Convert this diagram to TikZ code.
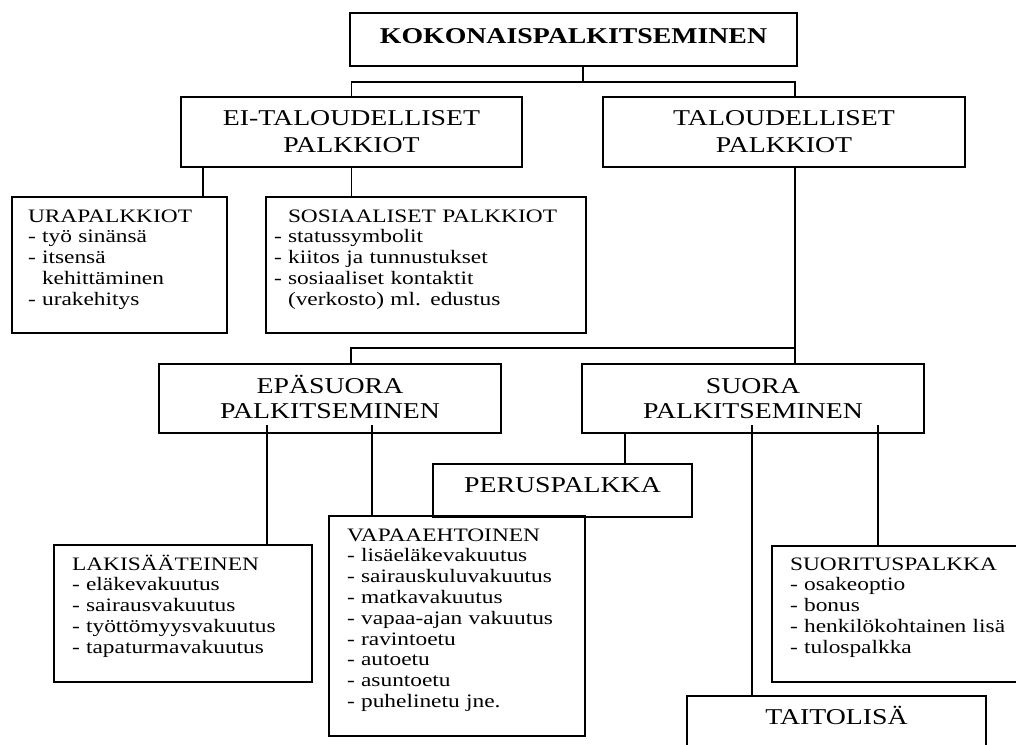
\documentclass[tikz,border=0pt]{standalone}
\usepackage{fontspec}
\setmainfont{Liberation Serif}[FakeStretch=1.23]
\usetikzlibrary{calc}
\newcommand{\headsize}{\fontsize{22.6pt}{25pt}\selectfont}
\newcommand{\toprowsize}{\fontsize{22.6pt}{27pt}\selectfont}
\newcommand{\listsize}{\fontsize{19pt}{20.8pt}\selectfont}
\tikzset{
    box/.style={draw, line width=1.1pt, anchor=north west, inner sep=0pt, outer sep=0pt},
    headbox/.style={box, align=center, font=\headsize},
    listbox/.style={box, align=left, font=\listsize, inner xsep=18pt},
    link/.style={line width=1.1pt},
    common settings/.style={x=1pt, y=-1pt}
}
\begin{document}
\begin{tikzpicture}[common settings]
    \useasboundingbox (0,0) rectangle (1016,744);
    \clip (0,0) rectangle (1016,744);

    % Top level
    \node[headbox, text width=447pt, text height=30pt, text depth=23pt, font=\headsize\bfseries] (koko) at (350,13) {KOKONAISPALKITSEMINEN};

    % Second level
    \node[headbox, text width=341pt, text height=28pt, text depth=42pt, font=\toprowsize] (ei) at (181,97) {EI-TALOUDELLISET\\PALKKIOT};
    \node[headbox, text width=362pt, text height=28pt, text depth=42pt, font=\toprowsize] (tal) at (603,97) {TALOUDELLISET\\PALKKIOT};

    % Non-financial rewards
    \node[listbox, inner xsep=16pt, text width=183pt, text height=25pt, text depth=111pt] (ura) at (12,197)
        {URAPALKKIOT\\- työ sinänsä\\- itsensä\\\hspace*{14pt}kehittäminen\\- urakehitys};
    \node[listbox, inner xsep=8pt, text width=304pt, text height=25pt, text depth=111pt] (sos) at (266,197)
        {\hspace*{14pt}SOSIAALISET PALKKIOT\\- statussymbolit\\- kiitos ja tunnustukset\\- sosiaaliset kontaktit\\\hspace*{14pt}(verkosto) ml. edustus};

    % Financial rewards
    \node[headbox, text width=342pt, text height=29pt, text depth=40pt] (epa) at (159,364) {EPÄSUORA\\PALKITSEMINEN};
    \node[headbox, text width=342pt, text height=29pt, text depth=40pt] (suo) at (582,364) {SUORA\\PALKITSEMINEN};

    \node[headbox, text width=259pt, text height=28pt, text depth=25pt] (per) at (433,464) {PERUSPALKKA};
    \node[listbox, text width=222pt, text height=25pt, text depth=112pt] (lak) at (54,545)
        {LAKISÄÄTEINEN\\- eläkevakuutus\\- sairausvakuutus\\- työttömyysvakuutus\\- tapaturmavakuutus};
    \node[listbox, text width=220pt, text height=25pt, text depth=195pt] (vap) at (329,516)
        {VAPAAEHTOINEN\\- lisäeläkevakuutus\\- sairauskuluvakuutus\\- matkavakuutus\\- vapaa-ajan vakuutus\\- ravintoetu\\- autoetu\\- asuntoetu\\- puhelinetu jne.};
    \node[listbox, text width=222pt, text height=24pt, text depth=112pt] (suor) at (772,546)
        {SUORITUSPALKKA\\- osakeoptio\\- bonus\\- henkilökohtainen lisä\\- tulospalkka};
    \node[headbox, text width=299pt, text height=28pt, text depth=60pt] (tai) at (687,696) {TAITOLISÄ};

    % Links from the top box
    \coordinate (k0) at (583,82);
    \coordinate (t0) at (795,82);
    \draw[link] (koko.south -| k0) -- (k0);
    \draw[link] (ei.north) |- (t0) -- (tal.north -| t0);

    % Links below EI-TALOUDELLISET
    \coordinate (urain) at ([xshift=191pt]ura.north west);
    \draw[link] (ei.south -| urain) -- (urain);
    \draw[link] (ei.south) -- (ei.south |- sos.north);

    % TALOUDELLISET down to the second split
    \coordinate (j1) at (795,348);
    \coordinate (j2) at (351,348);
    \draw[link] (tal.south -| j1) -- (suo.north -| j1);
    \draw[link] (j1) -- (j2) -- (epa.north -| j2);

    % EPÄSUORA branches
    \coordinate (lakin) at ([xshift=213pt]lak.north west);
    \coordinate (vapin) at ([xshift=43pt]vap.north west);
    \draw[link] ($(epa.south -| lakin)+(0,-8)$) -- (lakin);
    \draw[link] ($(epa.south -| vapin)+(0,-8)$) -- (vapin);

    % SUORA branches
    \coordinate (perin) at ([xshift=192pt]per.north west);
    \coordinate (taiin) at ([xshift=65pt]tai.north west);
    \coordinate (suorin) at ([xshift=106pt]suor.north west);
    \draw[link] (suo.south -| perin) -- (perin);
    \draw[link] ($(suo.south -| taiin)+(0,-8)$) -- (taiin);
    \draw[link] ($(suo.south -| suorin)+(0,-8)$) -- (suorin);

\end{tikzpicture}
\end{document}
